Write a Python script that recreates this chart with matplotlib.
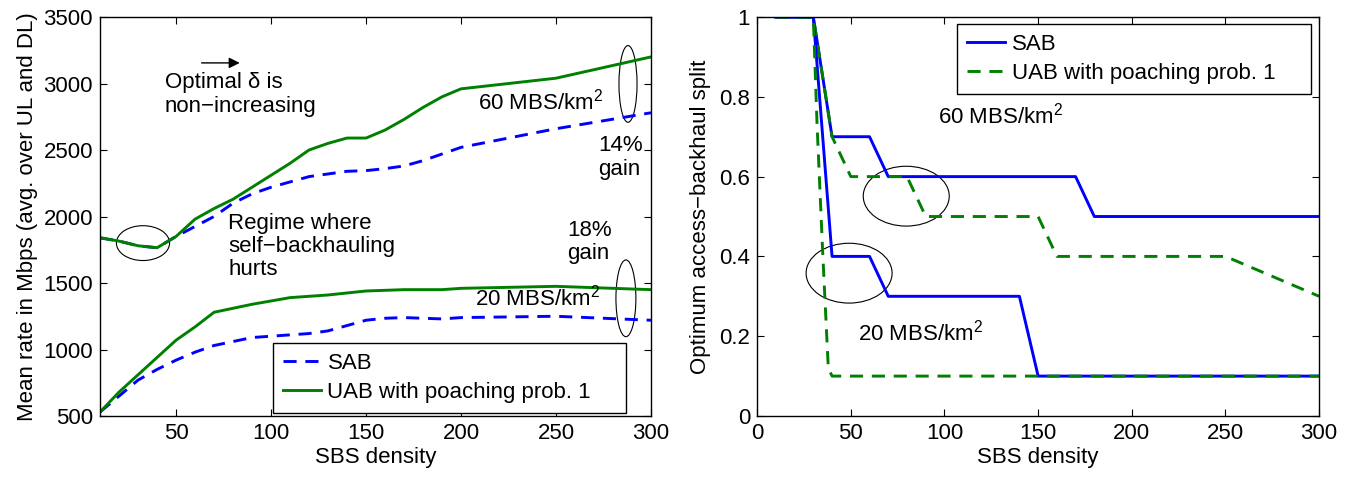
import numpy as np
import matplotlib
matplotlib.use('Agg')
from matplotlib import pyplot as plt
from matplotlib.patches import Ellipse

plt.rcParams['font.family'] = ['Liberation Sans', 'DejaVu Sans']
plt.rcParams['font.size'] = 16
plt.rcParams['mathtext.fontset'] = 'custom'
plt.rcParams['mathtext.rm'] = 'Liberation Sans'

BLUE = (0, 0, 1)
GREEN = (0, 0.5, 0)

# ---- left panel: mean rate vs SBS density ----
sbs_rate = [10, 20, 30, 40, 50, 60, 70, 80, 90, 100, 110, 120, 130, 140, 150,
            160, 170, 180, 190, 200, 250, 300]
sab_60 = [1840, 1815, 1780, 1765, 1850, 1925, 2000, 2100, 2170, 2220, 2260,
          2300, 2320, 2340, 2345, 2360, 2380, 2420, 2470, 2520, 2660, 2780]
uab_60 = [1840, 1815, 1780, 1765, 1850, 1980, 2060, 2130, 2220, 2310, 2400,
          2500, 2550, 2590, 2590, 2650, 2730, 2820, 2900, 2960, 3040, 3200]
sab_20 = [530, 650, 770, 850, 920, 980, 1030, 1060, 1090, 1100, 1110,
          1120, 1140, 1180, 1220, 1235, 1240, 1235, 1230, 1240, 1250, 1220]
uab_20 = [530, 680, 810, 940, 1070, 1170, 1280, 1310, 1340, 1365, 1390,
          1400, 1410, 1425, 1440, 1445, 1450, 1450, 1450, 1460, 1475, 1450]

# ---- right panel: optimum access-backhaul split ----
sab60_x = [10, 30, 40, 60, 70, 170, 180, 300]
sab60_y = [1, 1, 0.7, 0.7, 0.6, 0.6, 0.5, 0.5]
sab20_x = [10, 30, 40, 60, 70, 140, 150, 300]
sab20_y = [1, 1, 0.4, 0.4, 0.3, 0.3, 0.1, 0.1]
uab60_x = [10, 30, 40, 50, 80, 90, 150, 160, 250, 300]
uab60_y = [1, 1, 0.7, 0.6, 0.6, 0.5, 0.5, 0.4, 0.4, 0.3]
uab20_x = [10, 30, 32, 35, 38, 40, 300]
uab20_y = [1, 1, 0.73, 0.41, 0.12, 0.1, 0.1]

fig = plt.figure(figsize=(13.52, 4.78), dpi=100)
ax1 = fig.add_axes([0.074, 0.1297, 0.4075, 0.8347])
ax2 = fig.add_axes([0.560, 0.1297, 0.4157, 0.8347])

lw = 2.1
dash = (4.5, 3)
leg_kw = dict(mode='expand', borderaxespad=0, fancybox=False, edgecolor='k',
              framealpha=1, handlelength=1.7, handletextpad=0.3,
              labelspacing=0.35, borderpad=0.45)

ax1.plot(sbs_rate, sab_60, color=BLUE, lw=lw, dashes=dash, label='SAB')
ax1.plot(sbs_rate, uab_60, color=GREEN, lw=lw, label='UAB with poaching prob. 1')
ax1.plot(sbs_rate, sab_20, color=BLUE, lw=lw, dashes=dash)
ax1.plot(sbs_rate, uab_20, color=GREEN, lw=lw)
ax1.set_xlim(10, 300)
ax1.set_ylim(500, 3500)
ax1.set_xticks([50, 100, 150, 200, 250, 300])
ax1.set_yticks(np.arange(500, 3501, 500))
ax1.set_xlabel('SBS density', labelpad=2)
ax1.set_ylabel('Mean rate in Mbps (avg. over UL and DL)', labelpad=4)
ax1.legend(loc='lower left', bbox_to_anchor=(0.314, 0.0075, 0.641, 0.17),
           **leg_kw)

ell = dict(fill=False, edgecolor='k', lw=0.8)
ax1.add_patch(Ellipse((32.6, 1800), 28, 262, **ell))
ax1.add_patch(Ellipse((287.9, 2997), 9.5, 577, **ell))
ax1.add_patch(Ellipse((286.8, 1385), 10.5, 577, **ell))

ax1.annotate('', xy=(85, 3155), xytext=(62, 3155),
             arrowprops=dict(arrowstyle='-|>', color='k', lw=1.0,
                             mutation_scale=16))
ax1.text(44, 3085, 'Optimal δ is\nnon−increasing', ha='left', va='top',
         linespacing=1.15)
ax1.text(77.4, 2030, 'Regime where\nself−backhauling\nhurts', ha='left',
         va='top', linespacing=1.15)
ax1.text(275, 2865, '60 MBS/km$^2$', ha='right', va='center')
ax1.text(272, 2610, '14%\ngain', ha='left', va='top', linespacing=1.15)
ax1.text(255.8, 1975, '18%\ngain', ha='left', va='top', linespacing=1.15)
ax1.text(273, 1390, '20 MBS/km$^2$', ha='right', va='center')

ax2.plot(sab60_x, sab60_y, color=BLUE, lw=lw, label='SAB')
ax2.plot(uab60_x, uab60_y, color=GREEN, lw=lw, dashes=dash,
         label='UAB with poaching prob. 1')
ax2.plot(sab20_x, sab20_y, color=BLUE, lw=lw)
ax2.plot(uab20_x, uab20_y, color=GREEN, lw=lw, dashes=dash)
ax2.set_xlim(0, 300)
ax2.set_ylim(0, 1)
ax2.set_xticks(np.arange(0, 301, 50))
ax2.set_yticks([0, 0.2, 0.4, 0.6, 0.8, 1])
ax2.set_yticklabels(['0', '0.2', '0.4', '0.6', '0.8', '1'])
ax2.set_xlabel('SBS density', labelpad=2)
ax2.set_ylabel('Optimum access−backhaul split', labelpad=6)
ax2.legend(loc='upper left', bbox_to_anchor=(0.356, 0.982 - 0.17, 0.630, 0.17),
           **leg_kw)

ax2.add_patch(Ellipse((79.6, 0.551), 45.9, 0.15, **ell))
ax2.add_patch(Ellipse((49.1, 0.358), 45.9, 0.15, **ell))
ax2.text(96.6, 0.754, '60 MBS/km$^2$', ha='left', va='center')
ax2.text(53.9, 0.208, '20 MBS/km$^2$', ha='left', va='center')

for ax in (ax1, ax2):
    ax.tick_params(direction='in', top=True, right=True, length=5, width=0.8,
                   pad=5)
    for s in ax.spines.values():
        s.set_linewidth(1.0)

fig.savefig('out.png', dpi=100)
